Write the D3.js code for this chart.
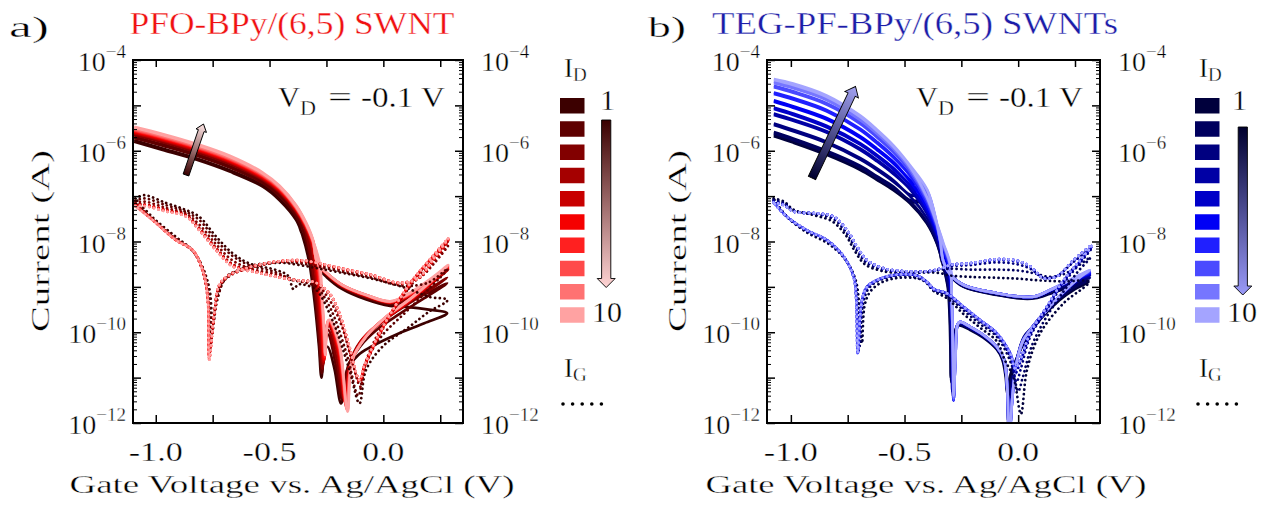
<!DOCTYPE html>
<html><head><meta charset="utf-8">
<script src="https://cdn.jsdelivr.net/npm/d3@7"></script>
<style>
body{margin:0;background:#fff}
svg{display:block}
text{font-family:"Liberation Serif","Times New Roman",serif;font-weight:normal;fill:#000;stroke:#fff;stroke-width:0.35px}
</style>
</head><body>
<svg id="c" width="1265" height="516"></svg>
<script>
// ---------------- data ----------------
const cycleLabels = ["1","2","3","4","5","6","7","8","9","10"];
const redShades  = ["#3c0000","#5e0000","#820000","#a50000","#c80000","#f50000","#ff2020","#ff4a4a","#ff7272","#ffa2a2"];
const blueShades = ["#00003c","#00005e","#000080","#0000a5","#0000c8","#0000f5","#2020ff","#4a4aff","#7676ff","#a4a4ff"];
const xTickValues = [-1.0,-0.75,-0.5,-0.25,0.0,0.25];
const xTickLabels = [[-1.0,"-1.0"],[-0.5,"-0.5"],[0.0,"0.0"]];
const yLabelExps = [-4,-6,-8,-10,-12];
const titleA = "PFO-BPy/(6,5) SWNT";
const titleB = "TEG-PF-BPy/(6,5) SWNTs";
const xLabel = "Gate Voltage vs. Ag/AgCl (V)";
const yLabel = "Current (A)";

// curves: flat lists of [gate voltage (V), log10 current (A)] pairs, in sweep order
// panel a) drain currents I_D, cycles 1..10
const aID1=[-1.095,-5.80,-0.97,-5.98,-0.82,-6.20,-0.675,-6.46,-0.53,-6.79,-0.456,-7.09,-0.383,-7.53,-0.354,-7.89,-0.325,-8.48,-0.303,-9.29,-0.283,-10.3,-0.272,-11.0,-0.258,-10.4,-0.245,-10.32,-0.215,-10.8,-0.186,-11.57,-0.16,-10.85,-0.11,-10.5,-0.054,-10.32,0.07,-10.02,0.18,-9.8,0.28,-9.58,0.2,-9.5,0.1,-9.44,0.03,-9.42,-0.075,-9.28,-0.18,-9.05,-0.25,-8.78,-0.3,-8.5,-0.33,-8.1,-0.36,-7.8,-0.383,-7.5,-0.456,-7.06,-0.53,-6.76,-0.675,-6.43,-0.82,-6.17,-0.97,-5.95,-1.095,-5.77];
const aID2=[-1.095,-5.72,-0.97,-5.89,-0.82,-6.11,-0.675,-6.37,-0.53,-6.71,-0.456,-7.00,-0.383,-7.44,-0.35,-7.8,-0.32,-8.45,-0.3,-9.2,-0.282,-10.2,-0.27,-10.9,-0.256,-10.15,-0.243,-10.05,-0.21,-10.7,-0.18,-11.5,-0.155,-10.75,-0.1,-10.3,-0.03,-9.95,0.07,-9.6,0.18,-9.25,0.28,-8.92,0.2,-9.12,0.1,-9.33,0.03,-9.38,-0.075,-9.24,-0.18,-9.01,-0.25,-8.74,-0.295,-8.48,-0.325,-8.05,-0.355,-7.72,-0.383,-7.41,-0.456,-6.97,-0.53,-6.68,-0.675,-6.34,-0.82,-6.08,-0.97,-5.86,-1.095,-5.69];
const aID3=[-1.095,-5.65,-0.97,-5.81,-0.82,-6.03,-0.675,-6.29,-0.53,-6.64,-0.456,-6.92,-0.383,-7.36,-0.345,-7.72,-0.315,-8.45,-0.296,-9.15,-0.279,-10.1,-0.268,-10.8,-0.254,-10.05,-0.242,-9.95,-0.205,-10.6,-0.175,-11.45,-0.15,-10.7,-0.1,-10.2,-0.03,-9.85,0.07,-9.5,0.18,-9.15,0.28,-8.80,0.2,-9.05,0.1,-9.28,0.03,-9.36,-0.075,-9.22,-0.18,-9.0,-0.25,-8.72,-0.292,-8.48,-0.32,-8.02,-0.35,-7.66,-0.383,-7.33,-0.456,-6.89,-0.53,-6.61,-0.675,-6.26,-0.82,-6.0,-0.97,-5.78,-1.095,-5.62];
const aID4=[-1.095,-5.62,-0.97,-5.78,-0.82,-6.00,-0.675,-6.26,-0.53,-6.62,-0.456,-6.90,-0.383,-7.33,-0.34,-7.72,-0.318,-8.05,-0.305,-8.45,-0.29,-9.1,-0.274,-10.1,-0.264,-10.7,-0.251,-9.95,-0.24,-9.85,-0.2,-10.5,-0.17,-11.5,-0.147,-10.7,-0.09,-10.15,0.0,-9.75,0.12,-9.3,0.285,-8.62,0.2,-8.95,0.1,-9.24,0.03,-9.35,-0.075,-9.21,-0.18,-8.99,-0.25,-8.71,-0.29,-8.48,-0.31,-8.02,-0.34,-7.69,-0.383,-7.3,-0.456,-6.87,-0.53,-6.59,-0.675,-6.23,-0.82,-5.97,-0.97,-5.75,-1.095,-5.59];
const aID5=[-1.095,-5.60,-0.97,-5.76,-0.82,-5.98,-0.675,-6.24,-0.53,-6.60,-0.456,-6.88,-0.383,-7.31,-0.34,-7.69,-0.315,-8.02,-0.3,-8.45,-0.285,-9.1,-0.27,-10.1,-0.262,-10.65,-0.249,-9.9,-0.239,-9.8,-0.198,-10.45,-0.167,-11.55,-0.145,-10.7,-0.085,-10.12,0.005,-9.72,0.124,-9.28,0.285,-8.6,0.2,-8.93,0.1,-9.23,0.03,-9.34,-0.075,-9.2,-0.18,-8.98,-0.25,-8.7,-0.29,-8.47,-0.31,-8.0,-0.34,-7.66,-0.383,-7.28,-0.456,-6.85,-0.53,-6.57,-0.675,-6.21,-0.82,-5.95,-0.97,-5.73,-1.095,-5.57];
const aID6=[-1.095,-5.58,-0.97,-5.74,-0.82,-5.96,-0.675,-6.22,-0.53,-6.58,-0.456,-6.86,-0.383,-7.29,-0.34,-7.67,-0.313,-8.0,-0.295,-8.45,-0.28,-9.1,-0.266,-10.2,-0.26,-10.6,-0.247,-9.85,-0.238,-9.78,-0.196,-10.4,-0.164,-11.6,-0.143,-10.7,-0.082,-10.11,0.008,-9.7,0.126,-9.26,0.285,-8.58,0.2,-8.91,0.1,-9.22,0.03,-9.34,-0.075,-9.19,-0.18,-8.97,-0.25,-8.7,-0.29,-8.47,-0.31,-7.99,-0.34,-7.64,-0.383,-7.26,-0.456,-6.83,-0.53,-6.55,-0.675,-6.19,-0.82,-5.93,-0.97,-5.71,-1.095,-5.55];
const aID7=[-1.095,-5.56,-0.97,-5.72,-0.82,-5.94,-0.675,-6.20,-0.53,-6.56,-0.456,-6.84,-0.383,-7.27,-0.34,-7.65,-0.312,-7.99,-0.29,-8.46,-0.276,-9.15,-0.262,-10.2,-0.258,-10.55,-0.245,-9.8,-0.237,-9.76,-0.195,-10.35,-0.162,-11.65,-0.141,-10.68,-0.08,-10.1,0.01,-9.68,0.127,-9.24,0.285,-8.56,0.2,-8.89,0.1,-9.21,0.03,-9.33,-0.075,-9.19,-0.18,-8.97,-0.25,-8.7,-0.29,-8.47,-0.31,-7.98,-0.34,-7.62,-0.383,-7.24,-0.456,-6.81,-0.53,-6.53,-0.675,-6.17,-0.82,-5.91,-0.97,-5.69,-1.095,-5.53];
const aID8=[-1.095,-5.54,-0.97,-5.70,-0.82,-5.92,-0.675,-6.18,-0.53,-6.54,-0.456,-6.82,-0.383,-7.26,-0.34,-7.63,-0.311,-7.98,-0.287,-8.47,-0.272,-9.2,-0.26,-10.2,-0.257,-10.5,-0.244,-9.77,-0.236,-9.75,-0.194,-10.32,-0.16,-11.7,-0.14,-10.66,-0.078,-10.1,0.011,-9.67,0.128,-9.23,0.285,-8.55,0.2,-8.88,0.1,-9.2,0.03,-9.33,-0.075,-9.18,-0.18,-8.96,-0.25,-8.69,-0.29,-8.47,-0.31,-7.98,-0.34,-7.61,-0.383,-7.23,-0.456,-6.8,-0.53,-6.52,-0.675,-6.16,-0.82,-5.9,-0.97,-5.68,-1.095,-5.52];
const aID9=[-1.095,-5.52,-0.97,-5.68,-0.82,-5.90,-0.675,-6.16,-0.53,-6.52,-0.456,-6.81,-0.383,-7.25,-0.34,-7.62,-0.31,-7.97,-0.284,-8.47,-0.27,-9.25,-0.258,-10.2,-0.256,-10.5,-0.243,-9.75,-0.235,-9.74,-0.193,-10.3,-0.158,-11.72,-0.138,-10.63,-0.077,-10.1,0.012,-9.66,0.129,-9.22,0.285,-8.53,0.2,-8.87,0.1,-9.19,0.03,-9.32,-0.075,-9.18,-0.18,-8.96,-0.25,-8.69,-0.29,-8.47,-0.31,-7.97,-0.34,-7.6,-0.383,-7.22,-0.456,-6.79,-0.53,-6.51,-0.675,-6.15,-0.82,-5.89,-0.97,-5.67,-1.095,-5.51];
const aID10=[-1.095,-5.49,-0.97,-5.65,-0.82,-5.87,-0.675,-6.13,-0.53,-6.50,-0.456,-6.79,-0.383,-7.23,-0.34,-7.60,-0.31,-7.97,-0.28,-8.48,-0.268,-9.3,-0.257,-10.2,-0.255,-10.5,-0.242,-9.74,-0.234,-9.73,-0.192,-10.3,-0.157,-11.75,-0.136,-10.6,-0.076,-10.1,0.012,-9.66,0.129,-9.22,0.285,-8.52,0.2,-8.85,0.1,-9.18,0.03,-9.32,-0.075,-9.18,-0.18,-8.96,-0.25,-8.69,-0.29,-8.47,-0.31,-7.95,-0.34,-7.58,-0.383,-7.2,-0.456,-6.77,-0.53,-6.48,-0.675,-6.11,-0.82,-5.85,-0.97,-5.63,-1.095,-5.47];
// panel a) gate leakage currents I_G, cycles 1..10
const aIG1=[-1.09,-7.05,-1.05,-6.98,-0.955,-7.15,-0.88,-7.28,-0.81,-7.45,-0.735,-7.89,-0.662,-8.26,-0.59,-8.48,-0.47,-8.63,-0.42,-8.75,-0.395,-9.05,-0.375,-8.95,-0.35,-8.95,-0.295,-9.07,-0.224,-9.73,-0.149,-10.83,-0.105,-11.57,-0.076,-10.83,-0.004,-10.32,0.114,-9.88,0.2,-9.55,0.282,-9.29,0.2,-9.22,0.114,-9.05,0.05,-8.95,-0.05,-8.82,-0.15,-8.72,-0.28,-8.6,-0.368,-8.52,-0.45,-8.47,-0.55,-8.52,-0.63,-8.62,-0.69,-8.8,-0.73,-9.2,-0.75,-9.88,-0.762,-9.1,-0.79,-8.62,-0.838,-8.2,-0.911,-7.9,-1.013,-7.47,-1.09,-7.05];
const aIG2=[-1.09,-7.1,-1.05,-7.05,-0.955,-7.2,-0.88,-7.32,-0.81,-7.52,-0.735,-7.97,-0.662,-8.32,-0.59,-8.52,-0.47,-8.68,-0.4,-8.85,-0.35,-8.9,-0.295,-9.0,-0.23,-9.5,-0.16,-10.5,-0.11,-11.4,-0.08,-10.7,-0.01,-10.1,0.1,-9.55,0.2,-9.05,0.283,-8.6,0.2,-8.9,0.114,-8.98,0.05,-8.95,-0.05,-8.8,-0.15,-8.7,-0.28,-8.56,-0.368,-8.48,-0.45,-8.45,-0.55,-8.5,-0.62,-8.6,-0.69,-8.78,-0.73,-9.3,-0.755,-10.1,-0.765,-9.2,-0.79,-8.62,-0.838,-8.2,-0.911,-7.93,-1.013,-7.5,-1.09,-7.1];
const aIG3=[-1.09,-7.15,-1.05,-7.12,-0.955,-7.26,-0.87,-7.38,-0.81,-7.62,-0.735,-8.06,-0.662,-8.42,-0.58,-8.6,-0.47,-8.72,-0.38,-8.85,-0.3,-8.92,-0.235,-9.3,-0.18,-9.9,-0.14,-10.6,-0.1,-11.2,-0.08,-10.7,-0.02,-10.0,0.06,-9.4,0.14,-8.85,0.22,-8.45,0.284,-8.1,0.22,-8.5,0.16,-8.8,0.1,-8.92,0.05,-8.92,-0.047,-8.76,-0.149,-8.66,-0.28,-8.52,-0.368,-8.45,-0.45,-8.44,-0.52,-8.5,-0.6,-8.6,-0.675,-8.76,-0.72,-9.0,-0.745,-9.7,-0.762,-10.4,-0.77,-9.3,-0.794,-8.65,-0.838,-8.2,-0.911,-7.96,-1.013,-7.52,-1.09,-7.15];
const aIG4=[-1.09,-7.18,-1.05,-7.18,-0.955,-7.3,-0.867,-7.42,-0.809,-7.7,-0.735,-8.14,-0.662,-8.5,-0.56,-8.66,-0.47,-8.77,-0.37,-8.86,-0.3,-8.9,-0.237,-9.16,-0.193,-9.62,-0.149,-10.38,-0.103,-11.1,-0.083,-10.78,-0.03,-10.2,0.043,-9.52,0.13,-8.86,0.216,-8.36,0.285,-8.0,0.22,-8.42,0.16,-8.8,0.1,-8.92,0.05,-8.91,-0.047,-8.75,-0.149,-8.64,-0.281,-8.5,-0.368,-8.43,-0.45,-8.44,-0.516,-8.49,-0.604,-8.6,-0.677,-8.75,-0.72,-8.97,-0.743,-9.6,-0.764,-10.45,-0.772,-9.24,-0.794,-8.64,-0.838,-8.2,-0.911,-7.96,-1.013,-7.52,-1.09,-7.18];
const aIG5=[-1.09,-7.19,-1.05,-7.19,-0.955,-7.31,-0.867,-7.43,-0.809,-7.72,-0.735,-8.16,-0.662,-8.52,-0.56,-8.67,-0.47,-8.77,-0.37,-8.86,-0.3,-8.9,-0.237,-9.15,-0.193,-9.6,-0.149,-10.36,-0.104,-11.08,-0.084,-10.77,-0.031,-10.19,0.042,-9.52,0.13,-8.86,0.216,-8.35,0.285,-7.98,0.22,-8.41,0.16,-8.79,0.1,-8.91,0.05,-8.91,-0.047,-8.75,-0.149,-8.64,-0.281,-8.49,-0.368,-8.42,-0.45,-8.44,-0.516,-8.49,-0.604,-8.6,-0.677,-8.75,-0.72,-8.96,-0.743,-9.59,-0.765,-10.5,-0.772,-9.23,-0.794,-8.64,-0.838,-8.2,-0.911,-7.97,-1.013,-7.52,-1.09,-7.19];
const aIG6=[-1.09,-7.2,-1.05,-7.2,-0.955,-7.32,-0.867,-7.44,-0.809,-7.73,-0.735,-8.17,-0.662,-8.53,-0.56,-8.67,-0.47,-8.78,-0.37,-8.86,-0.3,-8.9,-0.237,-9.15,-0.193,-9.59,-0.149,-10.34,-0.104,-11.07,-0.084,-10.76,-0.031,-10.18,0.041,-9.51,0.129,-8.85,0.216,-8.34,0.285,-7.96,0.22,-8.4,0.16,-8.79,0.1,-8.9,0.05,-8.9,-0.047,-8.74,-0.149,-8.63,-0.281,-8.49,-0.368,-8.42,-0.45,-8.43,-0.516,-8.48,-0.604,-8.59,-0.677,-8.74,-0.72,-8.96,-0.743,-9.59,-0.765,-10.55,-0.772,-9.23,-0.794,-8.63,-0.838,-8.19,-0.911,-7.97,-1.013,-7.53,-1.09,-7.2];
const aIG7=[-1.09,-7.21,-1.05,-7.21,-0.955,-7.33,-0.867,-7.44,-0.809,-7.74,-0.735,-8.18,-0.662,-8.54,-0.56,-8.68,-0.47,-8.78,-0.37,-8.86,-0.3,-8.9,-0.237,-9.14,-0.193,-9.58,-0.149,-10.33,-0.105,-11.06,-0.085,-10.76,-0.032,-10.17,0.041,-9.51,0.129,-8.85,0.216,-8.34,0.285,-7.95,0.22,-8.39,0.16,-8.78,0.1,-8.9,0.05,-8.9,-0.047,-8.74,-0.149,-8.63,-0.281,-8.48,-0.368,-8.41,-0.45,-8.43,-0.516,-8.48,-0.604,-8.59,-0.677,-8.74,-0.72,-8.95,-0.743,-9.58,-0.765,-10.58,-0.772,-9.22,-0.794,-8.63,-0.838,-8.19,-0.911,-7.97,-1.013,-7.53,-1.09,-7.21];
const aIG8=[-1.09,-7.21,-1.05,-7.21,-0.955,-7.33,-0.867,-7.45,-0.809,-7.75,-0.735,-8.19,-0.662,-8.55,-0.56,-8.68,-0.47,-8.78,-0.37,-8.86,-0.3,-8.9,-0.237,-9.14,-0.193,-9.58,-0.149,-10.32,-0.105,-11.05,-0.085,-10.75,-0.032,-10.17,0.041,-9.51,0.129,-8.85,0.216,-8.33,0.285,-7.94,0.22,-8.38,0.16,-8.78,0.1,-8.9,0.05,-8.9,-0.047,-8.74,-0.149,-8.63,-0.281,-8.48,-0.368,-8.41,-0.45,-8.43,-0.516,-8.48,-0.604,-8.59,-0.677,-8.74,-0.72,-8.95,-0.743,-9.58,-0.765,-10.6,-0.772,-9.22,-0.794,-8.63,-0.838,-8.19,-0.911,-7.97,-1.013,-7.53,-1.09,-7.21];
const aIG9=[-1.09,-7.22,-1.05,-7.22,-0.955,-7.34,-0.867,-7.45,-0.809,-7.75,-0.735,-8.19,-0.662,-8.55,-0.56,-8.68,-0.47,-8.78,-0.37,-8.86,-0.3,-8.9,-0.237,-9.14,-0.193,-9.58,-0.149,-10.32,-0.105,-11.05,-0.085,-10.75,-0.032,-10.17,0.041,-9.51,0.129,-8.85,0.216,-8.33,0.285,-7.93,0.22,-8.38,0.16,-8.78,0.1,-8.9,0.05,-8.9,-0.047,-8.74,-0.149,-8.63,-0.281,-8.48,-0.368,-8.41,-0.45,-8.43,-0.516,-8.48,-0.604,-8.59,-0.677,-8.74,-0.72,-8.95,-0.743,-9.58,-0.765,-10.6,-0.772,-9.22,-0.794,-8.63,-0.838,-8.19,-0.911,-7.97,-1.013,-7.53,-1.09,-7.22];
const aIG10=[-1.09,-7.22,-1.05,-7.22,-0.955,-7.34,-0.867,-7.45,-0.809,-7.75,-0.735,-8.19,-0.662,-8.55,-0.56,-8.68,-0.47,-8.78,-0.37,-8.86,-0.3,-8.9,-0.237,-9.14,-0.193,-9.58,-0.149,-10.32,-0.105,-11.05,-0.085,-10.75,-0.032,-10.17,0.041,-9.51,0.129,-8.85,0.216,-8.33,0.285,-7.93,0.22,-8.38,0.16,-8.78,0.1,-8.9,0.05,-8.9,-0.047,-8.74,-0.149,-8.63,-0.281,-8.48,-0.368,-8.41,-0.45,-8.43,-0.516,-8.48,-0.604,-8.59,-0.677,-8.74,-0.72,-8.95,-0.743,-9.58,-0.765,-10.62,-0.772,-9.22,-0.794,-8.63,-0.838,-8.19,-0.911,-7.97,-1.013,-7.53,-1.09,-7.22];

// panel b) drain currents I_D, cycles 1..10
const bID1=[-1.075,-5.68,-0.99,-5.82,-0.843,-6.09,-0.696,-6.42,-0.622,-6.64,-0.549,-6.87,-0.476,-7.16,-0.402,-7.60,-0.358,-8.04,-0.329,-8.55,-0.31,-9.0,-0.302,-9.6,-0.298,-10.4,-0.296,-11.0,-0.288,-10.3,-0.272,-9.9,-0.26,-9.85,-0.211,-9.95,-0.153,-10.12,-0.094,-10.38,-0.07,-10.6,-0.055,-10.98,-0.048,-11.35,-0.035,-10.95,0.0,-10.5,0.04,-10.1,0.1,-9.7,0.18,-9.3,0.25,-9.05,0.31,-8.89,0.229,-9.0,0.141,-9.15,0.075,-9.25,0.022,-9.26,-0.094,-9.18,-0.24,-9.0,-0.3,-8.75,-0.335,-8.45,-0.35,-8.05,-0.372,-7.62,-0.41,-7.15,-0.476,-7.13,-0.549,-6.84,-0.622,-6.61,-0.696,-6.39,-0.843,-6.06,-0.99,-5.79,-1.075,-5.65];
const bID2=[-1.075,-5.62,-0.99,-5.76,-0.843,-6.03,-0.696,-6.36,-0.622,-6.59,-0.549,-6.82,-0.476,-7.12,-0.402,-7.57,-0.358,-8.02,-0.329,-8.53,-0.308,-9.0,-0.3,-9.6,-0.296,-10.5,-0.294,-11.1,-0.286,-10.3,-0.27,-9.88,-0.258,-9.83,-0.211,-9.93,-0.153,-10.1,-0.094,-10.36,-0.066,-10.6,-0.05,-11.1,-0.044,-11.6,-0.032,-11.1,-0.004,-10.55,0.035,-10.1,0.1,-9.65,0.18,-9.26,0.25,-9.0,0.31,-8.85,0.229,-8.97,0.141,-9.13,0.075,-9.24,0.022,-9.25,-0.094,-9.17,-0.24,-8.99,-0.3,-8.74,-0.334,-8.44,-0.35,-8.04,-0.372,-7.6,-0.41,-7.12,-0.476,-7.09,-0.549,-6.79,-0.622,-6.56,-0.696,-6.33,-0.843,-6.0,-0.99,-5.73,-1.075,-5.59];
const bID3=[-1.075,-5.43,-0.99,-5.57,-0.843,-5.83,-0.696,-6.19,-0.622,-6.42,-0.549,-6.68,-0.476,-7.00,-0.402,-7.48,-0.358,-7.95,-0.329,-8.45,-0.306,-8.95,-0.297,-9.55,-0.292,-10.6,-0.29,-11.3,-0.282,-10.4,-0.268,-9.85,-0.257,-9.8,-0.211,-9.91,-0.153,-10.08,-0.094,-10.34,-0.064,-10.6,-0.048,-11.2,-0.042,-12.0,-0.028,-11.2,-0.006,-10.6,0.025,-10.1,0.06,-9.9,0.126,-9.5,0.2,-9.12,0.273,-8.85,0.315,-8.8,0.229,-8.92,0.141,-9.1,0.075,-9.22,0.022,-9.23,-0.094,-9.15,-0.24,-8.97,-0.3,-8.73,-0.332,-8.43,-0.348,-8.0,-0.37,-7.56,-0.41,-7.05,-0.476,-6.97,-0.549,-6.65,-0.622,-6.39,-0.696,-6.16,-0.843,-5.8,-0.99,-5.54,-1.075,-5.4];
const bID4=[-1.075,-5.21,-0.99,-5.34,-0.843,-5.60,-0.696,-5.98,-0.622,-6.23,-0.549,-6.51,-0.476,-6.85,-0.402,-7.38,-0.358,-7.87,-0.329,-8.36,-0.304,-8.8,-0.295,-9.45,-0.289,-10.6,-0.287,-11.4,-0.279,-10.5,-0.267,-9.83,-0.256,-9.79,-0.211,-9.9,-0.153,-10.07,-0.094,-10.33,-0.063,-10.6,-0.048,-11.3,-0.041,-12.4,-0.026,-11.3,-0.007,-10.65,0.02,-10.18,0.053,-9.96,0.126,-9.52,0.2,-9.12,0.273,-8.82,0.315,-8.75,0.229,-8.88,0.141,-9.08,0.075,-9.21,0.022,-9.22,-0.094,-9.14,-0.24,-8.96,-0.3,-8.72,-0.331,-8.42,-0.346,-8.0,-0.368,-7.55,-0.405,-7.0,-0.476,-6.82,-0.549,-6.48,-0.622,-6.2,-0.696,-5.95,-0.843,-5.57,-0.99,-5.31,-1.075,-5.18];
const bID5=[-1.075,-5.08,-0.99,-5.21,-0.843,-5.48,-0.696,-5.86,-0.622,-6.12,-0.549,-6.41,-0.476,-6.77,-0.402,-7.32,-0.358,-7.83,-0.329,-8.31,-0.303,-8.7,-0.294,-9.4,-0.288,-10.6,-0.285,-11.5,-0.277,-10.55,-0.266,-9.82,-0.255,-9.78,-0.211,-9.89,-0.153,-10.07,-0.094,-10.33,-0.062,-10.6,-0.047,-11.3,-0.04,-12.4,-0.025,-11.35,-0.008,-10.68,0.02,-10.2,0.053,-9.96,0.126,-9.52,0.2,-9.12,0.273,-8.8,0.315,-8.72,0.229,-8.87,0.141,-9.08,0.075,-9.21,0.022,-9.22,-0.094,-9.14,-0.24,-8.96,-0.3,-8.72,-0.33,-8.42,-0.345,-8.0,-0.366,-7.55,-0.402,-6.98,-0.476,-6.74,-0.549,-6.38,-0.622,-6.09,-0.696,-5.83,-0.843,-5.45,-0.99,-5.18,-1.075,-5.05];
const bID6=[-1.075,-4.92,-0.99,-5.05,-0.843,-5.31,-0.696,-5.71,-0.622,-5.98,-0.549,-6.28,-0.476,-6.67,-0.402,-7.24,-0.358,-7.77,-0.329,-8.24,-0.302,-8.62,-0.293,-9.35,-0.287,-10.55,-0.284,-11.5,-0.276,-10.55,-0.266,-9.82,-0.255,-9.77,-0.211,-9.88,-0.153,-10.06,-0.094,-10.32,-0.062,-10.6,-0.047,-11.3,-0.04,-12.4,-0.025,-11.4,-0.008,-10.7,0.02,-10.2,0.053,-9.95,0.126,-9.51,0.2,-9.11,0.273,-8.79,0.315,-8.7,0.229,-8.86,0.141,-9.07,0.075,-9.21,0.022,-9.22,-0.094,-9.14,-0.24,-8.96,-0.3,-8.72,-0.33,-8.42,-0.344,-8.0,-0.364,-7.55,-0.4,-6.95,-0.476,-6.64,-0.549,-6.25,-0.622,-5.95,-0.696,-5.68,-0.843,-5.28,-0.99,-5.02,-1.075,-4.89];
const bID7=[-1.075,-4.75,-0.99,-4.87,-0.843,-5.13,-0.696,-5.54,-0.622,-5.83,-0.549,-6.15,-0.476,-6.55,-0.402,-7.16,-0.358,-7.71,-0.329,-8.17,-0.301,-8.56,-0.293,-9.32,-0.287,-10.5,-0.284,-11.5,-0.276,-10.55,-0.266,-9.82,-0.255,-9.77,-0.211,-9.88,-0.153,-10.06,-0.094,-10.32,-0.062,-10.6,-0.047,-11.3,-0.04,-12.4,-0.025,-11.4,-0.008,-10.7,0.02,-10.2,0.053,-9.95,0.126,-9.51,0.2,-9.11,0.273,-8.79,0.315,-8.68,0.229,-8.86,0.141,-9.07,0.075,-9.21,0.022,-9.22,-0.094,-9.14,-0.24,-8.96,-0.3,-8.72,-0.33,-8.42,-0.343,-8.0,-0.363,-7.55,-0.4,-6.92,-0.476,-6.52,-0.549,-6.12,-0.622,-5.8,-0.696,-5.51,-0.843,-5.1,-0.99,-4.84,-1.075,-4.72];
const bID8=[-1.075,-4.60,-0.99,-4.72,-0.843,-4.98,-0.696,-5.40,-0.622,-5.70,-0.549,-6.03,-0.476,-6.46,-0.402,-7.09,-0.358,-7.66,-0.329,-8.11,-0.3,-8.52,-0.292,-9.3,-0.287,-10.5,-0.284,-11.5,-0.276,-10.55,-0.266,-9.82,-0.255,-9.77,-0.211,-9.88,-0.153,-10.06,-0.094,-10.32,-0.062,-10.6,-0.047,-11.3,-0.04,-12.4,-0.025,-11.4,-0.008,-10.7,0.02,-10.2,0.053,-9.95,0.126,-9.51,0.2,-9.11,0.273,-8.78,0.315,-8.66,0.229,-8.85,0.141,-9.07,0.075,-9.21,0.022,-9.22,-0.094,-9.14,-0.24,-8.96,-0.3,-8.72,-0.33,-8.42,-0.343,-8.0,-0.362,-7.55,-0.4,-6.9,-0.476,-6.43,-0.549,-6.0,-0.622,-5.67,-0.696,-5.37,-0.843,-4.95,-0.99,-4.69,-1.075,-4.57];
const bID9=[-1.075,-4.51,-0.99,-4.62,-0.843,-4.88,-0.696,-5.32,-0.622,-5.62,-0.549,-5.96,-0.476,-6.40,-0.402,-7.04,-0.358,-7.62,-0.329,-8.07,-0.3,-8.5,-0.292,-9.3,-0.287,-10.5,-0.284,-11.45,-0.276,-10.55,-0.266,-9.82,-0.255,-9.77,-0.211,-9.88,-0.153,-10.06,-0.094,-10.32,-0.062,-10.6,-0.047,-11.3,-0.04,-12.4,-0.025,-11.4,-0.008,-10.7,0.02,-10.2,0.053,-9.95,0.126,-9.51,0.2,-9.11,0.273,-8.78,0.315,-8.64,0.229,-8.85,0.141,-9.07,0.075,-9.21,0.022,-9.22,-0.094,-9.14,-0.24,-8.96,-0.3,-8.72,-0.33,-8.42,-0.342,-8.0,-0.361,-7.55,-0.4,-6.88,-0.476,-6.37,-0.549,-5.93,-0.622,-5.59,-0.696,-5.29,-0.843,-4.85,-0.99,-4.59,-1.075,-4.48];
const bID10=[-1.075,-4.44,-0.99,-4.55,-0.843,-4.81,-0.696,-5.25,-0.622,-5.56,-0.549,-5.91,-0.476,-6.35,-0.402,-7.01,-0.358,-7.60,-0.329,-8.04,-0.3,-8.48,-0.292,-9.3,-0.287,-10.5,-0.284,-11.4,-0.276,-10.6,-0.266,-9.82,-0.255,-9.77,-0.211,-9.88,-0.153,-10.06,-0.094,-10.32,-0.062,-10.6,-0.047,-11.3,-0.04,-12.4,-0.025,-11.4,-0.008,-10.7,0.02,-10.2,0.053,-9.95,0.126,-9.51,0.2,-9.11,0.273,-8.78,0.315,-8.63,0.229,-8.85,0.141,-9.07,0.075,-9.21,0.022,-9.22,-0.094,-9.14,-0.24,-8.96,-0.3,-8.72,-0.33,-8.42,-0.342,-8.0,-0.36,-7.55,-0.4,-6.86,-0.476,-6.32,-0.549,-5.88,-0.622,-5.53,-0.696,-5.22,-0.843,-4.78,-0.99,-4.52,-1.075,-4.42];
// panel b) gate leakage currents I_G, cycles 1..10
const bIG1=[-1.076,-7.05,-1.03,-7.12,-0.988,-7.3,-0.9,-7.42,-0.82,-7.55,-0.76,-7.85,-0.72,-8.2,-0.675,-8.5,-0.6,-8.65,-0.5,-8.7,-0.4,-8.68,-0.34,-8.7,-0.3,-8.75,-0.211,-8.78,-0.094,-8.8,0.0,-8.82,0.1,-8.86,0.2,-8.88,0.31,-8.89,0.2,-9.36,0.097,-10.02,0.039,-10.83,0.012,-11.8,-0.02,-11.0,-0.06,-10.6,-0.094,-10.2,-0.167,-9.9,-0.24,-9.6,-0.314,-9.25,-0.37,-9.1,-0.42,-8.85,-0.52,-8.8,-0.6,-8.9,-0.65,-9.1,-0.675,-9.4,-0.687,-10.24,-0.7,-9.35,-0.715,-8.85,-0.76,-8.4,-0.835,-8.05,-0.93,-7.8,-1.018,-7.45,-1.076,-7.05];
const bIG2=[-1.076,-7.08,-1.03,-7.15,-0.988,-7.32,-0.89,-7.4,-0.815,-7.5,-0.757,-7.8,-0.715,-8.16,-0.67,-8.46,-0.595,-8.62,-0.49,-8.68,-0.4,-8.67,-0.34,-8.62,-0.3,-8.6,-0.211,-8.62,-0.094,-8.62,0.0,-8.64,0.07,-8.7,0.14,-8.78,0.2,-8.72,0.26,-8.55,0.318,-8.35,0.26,-8.68,0.2,-9.1,0.12,-9.7,0.06,-10.3,0.02,-11.0,0.0,-11.3,-0.03,-10.7,-0.094,-10.1,-0.167,-9.82,-0.24,-9.52,-0.314,-9.2,-0.37,-9.08,-0.41,-8.88,-0.48,-8.76,-0.56,-8.78,-0.62,-8.88,-0.66,-9.05,-0.683,-9.4,-0.697,-10.3,-0.706,-9.3,-0.72,-8.8,-0.765,-8.36,-0.838,-8.0,-0.93,-7.77,-1.018,-7.45,-1.076,-7.08];
const bIG3=[-1.076,-7.1,-1.03,-7.17,-0.988,-7.33,-0.887,-7.39,-0.813,-7.47,-0.755,-7.77,-0.712,-8.13,-0.667,-8.43,-0.593,-8.6,-0.49,-8.67,-0.4,-8.66,-0.342,-8.61,-0.3,-8.55,-0.211,-8.52,-0.094,-8.46,-0.006,-8.5,0.053,-8.6,0.112,-8.8,0.17,-8.76,0.244,-8.45,0.322,-8.15,0.273,-8.47,0.2,-8.92,0.126,-9.5,0.053,-10.1,0.012,-10.8,-0.008,-11.1,-0.035,-10.55,-0.094,-10.05,-0.167,-9.76,-0.24,-9.47,-0.314,-9.16,-0.37,-9.06,-0.4,-8.9,-0.445,-8.75,-0.548,-8.75,-0.621,-8.86,-0.663,-9.02,-0.685,-9.33,-0.703,-10.4,-0.71,-9.3,-0.722,-8.79,-0.767,-8.34,-0.84,-7.98,-0.93,-7.76,-1.018,-7.45,-1.076,-7.1];
const bIG4=[-1.076,-7.12,-1.03,-7.19,-0.988,-7.34,-0.885,-7.38,-0.812,-7.46,-0.753,-7.76,-0.71,-8.12,-0.666,-8.42,-0.592,-8.6,-0.489,-8.66,-0.4,-8.66,-0.342,-8.6,-0.3,-8.53,-0.211,-8.49,-0.094,-8.41,-0.006,-8.44,0.053,-8.56,0.112,-8.81,0.17,-8.77,0.244,-8.42,0.324,-8.1,0.273,-8.43,0.2,-8.87,0.126,-9.46,0.053,-10.04,0.01,-10.65,-0.012,-10.9,-0.035,-10.48,-0.094,-10.03,-0.167,-9.74,-0.24,-9.45,-0.314,-9.15,-0.37,-9.05,-0.4,-8.9,-0.445,-8.75,-0.548,-8.74,-0.621,-8.85,-0.665,-9.0,-0.687,-9.3,-0.705,-10.44,-0.712,-9.3,-0.724,-8.78,-0.768,-8.33,-0.841,-7.97,-0.93,-7.75,-1.018,-7.45,-1.076,-7.12];
const bIG5=[-1.076,-7.13,-1.03,-7.2,-0.988,-7.34,-0.885,-7.38,-0.812,-7.45,-0.753,-7.75,-0.709,-8.11,-0.665,-8.41,-0.592,-8.59,-0.489,-8.66,-0.4,-8.66,-0.342,-8.6,-0.3,-8.52,-0.211,-8.48,-0.094,-8.4,-0.006,-8.43,0.053,-8.55,0.112,-8.81,0.17,-8.77,0.244,-8.41,0.325,-8.09,0.273,-8.42,0.2,-8.86,0.126,-9.45,0.053,-10.03,0.009,-10.62,-0.013,-10.82,-0.035,-10.47,-0.094,-10.02,-0.167,-9.73,-0.24,-9.44,-0.314,-9.14,-0.37,-9.05,-0.4,-8.9,-0.445,-8.75,-0.548,-8.74,-0.621,-8.85,-0.665,-9.0,-0.687,-9.29,-0.706,-10.46,-0.712,-9.3,-0.724,-8.78,-0.768,-8.33,-0.841,-7.97,-0.93,-7.75,-1.018,-7.45,-1.076,-7.13];
const bIG6=[-1.076,-7.14,-1.03,-7.2,-0.988,-7.34,-0.885,-7.38,-0.812,-7.45,-0.753,-7.75,-0.709,-8.11,-0.665,-8.41,-0.592,-8.59,-0.489,-8.66,-0.4,-8.66,-0.342,-8.6,-0.3,-8.52,-0.211,-8.48,-0.094,-8.39,-0.006,-8.42,0.053,-8.55,0.112,-8.81,0.17,-8.77,0.244,-8.41,0.325,-8.08,0.273,-8.41,0.2,-8.85,0.126,-9.44,0.053,-10.02,0.009,-10.61,-0.013,-10.8,-0.035,-10.46,-0.094,-10.02,-0.167,-9.73,-0.24,-9.44,-0.314,-9.14,-0.37,-9.05,-0.4,-8.9,-0.445,-8.75,-0.548,-8.74,-0.621,-8.85,-0.665,-9.0,-0.687,-9.29,-0.706,-10.46,-0.712,-9.3,-0.724,-8.78,-0.768,-8.33,-0.841,-7.97,-0.93,-7.75,-1.018,-7.45,-1.076,-7.14];
const bIG7=[-1.076,-7.14,-1.03,-7.2,-0.988,-7.34,-0.885,-7.38,-0.812,-7.45,-0.753,-7.75,-0.709,-8.11,-0.665,-8.41,-0.592,-8.59,-0.489,-8.66,-0.4,-8.66,-0.342,-8.6,-0.3,-8.52,-0.211,-8.48,-0.094,-8.39,-0.006,-8.42,0.053,-8.55,0.112,-8.81,0.17,-8.77,0.244,-8.41,0.325,-8.08,0.273,-8.41,0.2,-8.85,0.126,-9.44,0.053,-10.02,0.009,-10.61,-0.013,-10.79,-0.035,-10.46,-0.094,-10.02,-0.167,-9.73,-0.24,-9.44,-0.314,-9.14,-0.37,-9.05,-0.4,-8.9,-0.445,-8.75,-0.548,-8.74,-0.621,-8.85,-0.665,-9.0,-0.687,-9.29,-0.706,-10.46,-0.712,-9.3,-0.724,-8.78,-0.768,-8.33,-0.841,-7.97,-0.93,-7.75,-1.018,-7.45,-1.076,-7.14];
const bIG8=[-1.076,-7.14,-1.03,-7.2,-0.988,-7.34,-0.885,-7.38,-0.812,-7.45,-0.753,-7.75,-0.709,-8.11,-0.665,-8.41,-0.592,-8.59,-0.489,-8.66,-0.4,-8.66,-0.342,-8.6,-0.3,-8.52,-0.211,-8.48,-0.094,-8.39,-0.006,-8.42,0.053,-8.55,0.112,-8.81,0.17,-8.77,0.244,-8.41,0.325,-8.08,0.273,-8.41,0.2,-8.85,0.126,-9.44,0.053,-10.02,0.009,-10.61,-0.013,-10.78,-0.035,-10.46,-0.094,-10.02,-0.167,-9.73,-0.24,-9.44,-0.314,-9.14,-0.37,-9.05,-0.4,-8.9,-0.445,-8.75,-0.548,-8.74,-0.621,-8.85,-0.665,-9.0,-0.687,-9.29,-0.706,-10.46,-0.712,-9.3,-0.724,-8.78,-0.768,-8.33,-0.841,-7.97,-0.93,-7.75,-1.018,-7.45,-1.076,-7.14];
const bIG9=[-1.076,-7.14,-1.03,-7.2,-0.988,-7.34,-0.885,-7.38,-0.812,-7.45,-0.753,-7.75,-0.709,-8.11,-0.665,-8.41,-0.592,-8.59,-0.489,-8.66,-0.4,-8.66,-0.342,-8.6,-0.3,-8.52,-0.211,-8.48,-0.094,-8.39,-0.006,-8.42,0.053,-8.55,0.112,-8.81,0.17,-8.77,0.244,-8.41,0.325,-8.08,0.273,-8.41,0.2,-8.85,0.126,-9.44,0.053,-10.02,0.009,-10.61,-0.013,-10.8,-0.035,-10.46,-0.094,-10.02,-0.167,-9.73,-0.24,-9.44,-0.314,-9.14,-0.37,-9.05,-0.4,-8.9,-0.445,-8.75,-0.548,-8.74,-0.621,-8.85,-0.665,-9.0,-0.687,-9.29,-0.706,-10.46,-0.712,-9.3,-0.724,-8.78,-0.768,-8.33,-0.841,-7.97,-0.93,-7.75,-1.018,-7.45,-1.076,-7.14];
const bIG10=[-1.076,-7.14,-1.03,-7.2,-0.988,-7.34,-0.885,-7.38,-0.812,-7.45,-0.753,-7.75,-0.709,-8.11,-0.665,-8.41,-0.592,-8.59,-0.489,-8.66,-0.4,-8.66,-0.342,-8.6,-0.3,-8.52,-0.211,-8.48,-0.094,-8.39,-0.006,-8.42,0.053,-8.55,0.112,-8.81,0.17,-8.77,0.244,-8.41,0.325,-8.08,0.273,-8.41,0.2,-8.85,0.126,-9.44,0.053,-10.02,0.009,-10.61,-0.013,-10.8,-0.035,-10.46,-0.094,-10.02,-0.167,-9.73,-0.24,-9.44,-0.314,-9.14,-0.37,-9.05,-0.4,-8.9,-0.445,-8.75,-0.548,-8.74,-0.621,-8.85,-0.665,-9.0,-0.687,-9.29,-0.706,-10.46,-0.712,-9.3,-0.724,-8.78,-0.768,-8.33,-0.841,-7.97,-0.93,-7.75,-1.018,-7.45,-1.076,-7.14];

const aID=[aID1,aID2,aID3,aID4,aID5,aID6,aID7,aID8,aID9,aID10];
const aIG=[aIG1,aIG2,aIG3,aIG4,aIG5,aIG6,aIG7,aIG8,aIG9,aIG10];
const bID=[bID1,bID2,bID3,bID4,bID5,bID6,bID7,bID8,bID9,bID10];
const bIG=[bIG1,bIG2,bIG3,bIG4,bIG5,bIG6,bIG7,bIG8,bIG9,bIG10];

// ---------------- drawing ----------------
const svg = d3.select('#c');
const defs = svg.append('defs');
const TOP = 60, BOT = 423;

function pairs(a){ const o=[]; for(let i=0;i<a.length;i+=2) o.push([a[i], Math.pow(10,a[i+1])]); return o; }
function grad(id,c0,c1){
  const g=defs.append('linearGradient').attr('id',id).attr('x1',0).attr('y1',0).attr('x2',1).attr('y2',0);
  g.append('stop').attr('offset',0).attr('stop-color',c0);
  g.append('stop').attr('offset',1).attr('stop-color',c1);
}
function txt(x,y,s,size,anchor,len,color){
  const t=svg.append('text').attr('x',x).attr('y',y).attr('font-size',size).attr('text-anchor',anchor||'start').text(s);
  if(len){ t.attr('textLength',len).attr('lengthAdjust','spacingAndGlyphs'); }
  if(color) t.style('fill',color);
  return t;
}
function arrow(x0,y0,x1,y1,sw,hw,hl,gid){
  const L=Math.hypot(x1-x0,y1-y0), ang=Math.atan2(y1-y0,x1-x0)*180/Math.PI;
  const p=[[0,-sw],[L-hl,-sw],[L-hl,-hw],[L,0],[L-hl,hw],[L-hl,sw],[0,sw]];
  svg.append('polygon').attr('points',p.map(q=>q.join(',')).join(' '))
    .attr('transform',`translate(${x0},${y0}) rotate(${ang})`)
    .attr('fill',`url(#${gid})`).attr('stroke','#000').attr('stroke-width',0.9);
}
function subText(x,y,main,sub,size,subSize,subDy){
  const t=svg.append('text').attr('x',x).attr('y',y).attr('font-size',size);
  t.append('tspan').text(main);
  t.append('tspan').attr('font-size',subSize).attr('dy',subDy).text(sub);
  return t;
}

function panel(o){
  const x=d3.scaleLinear().domain(o.xDomain).range([o.x0,o.x1]);
  const y=d3.scaleLog().domain([1e-12,1e-4]).range([BOT,TOP]);
  const clipId=o.id+'clip';
  defs.append('clipPath').attr('id',clipId).append('rect')
    .attr('x',o.x0).attr('y',TOP).attr('width',o.x1-o.x0).attr('height',BOT-TOP);
  const line=d3.line().x(d=>x(d[0])).y(d=>y(d[1])).curve(d3.curveCatmullRom.alpha(0.5));
  const cg=svg.append('g').attr('clip-path',`url(#${clipId})`);
  o.id_.forEach((a,i)=>cg.append('path').attr('d',line(pairs(a))).attr('fill','none')
    .attr('stroke',o.colors[i]).attr('stroke-width',2.7).attr('stroke-linejoin','round'));
  o.ig.forEach((a,i)=>cg.append('path').attr('d',line(pairs(a))).attr('fill','none')
    .attr('stroke',o.colors[i]).attr('stroke-width',2.7).attr('stroke-linecap','round')
    .attr('stroke-dasharray','0.1 4.6'));

  // axes with inward ticks
  const tickStyle=g=>{ g.select('.domain').remove(); g.selectAll('line').attr('stroke','#000').attr('stroke-width',1.5); };
  svg.append('g').attr('transform',`translate(0,${BOT})`)
    .call(d3.axisBottom(x).tickValues(xTickValues).tickSize(-8).tickFormat('')).call(tickStyle);
  svg.append('g').attr('transform',`translate(0,${TOP})`)
    .call(d3.axisTop(x).tickValues(xTickValues).tickSize(-7).tickFormat('')).call(tickStyle);
  const majors=d3.range(-12,-3).map(e=>Math.pow(10,e));
  const minors=[]; d3.range(-12,-4).forEach(e=>{ for(let m=2;m<10;m++) minors.push(m*Math.pow(10,e)); });
  [['L',o.x0],['R',o.x1]].forEach(([side,px])=>{
    const ax = side==='L'? d3.axisLeft(y): d3.axisRight(y);
    svg.append('g').attr('transform',`translate(${px},0)`).call(ax.tickValues(majors).tickSize(-8).tickFormat('')).call(tickStyle);
    const ax2 = side==='L'? d3.axisLeft(y): d3.axisRight(y);
    svg.append('g').attr('transform',`translate(${px},0)`).call(ax2.tickValues(minors).tickSize(-4).tickFormat('')).call(tickStyle)
      .selectAll('line').attr('stroke-width',1);
  });
  svg.append('rect').attr('x',o.x0).attr('y',TOP).attr('width',o.x1-o.x0).attr('height',BOT-TOP)
    .attr('fill','none').attr('stroke','#000').attr('stroke-width',2);

  // tick labels
  xTickLabels.forEach(([v,s])=>txt(x(v),461,s,28,'middle',s.length>3?54:42));
  yLabelExps.forEach(e=>{
    [['end',o.x0-7],['start',o.x1+18]].forEach(([anc,px])=>{
      const t=svg.append('text').attr('x',px).attr('y',y(Math.pow(10,e))+11).attr('font-size',28).attr('text-anchor',anc);
      t.append('tspan').text('10');
      t.append('tspan').attr('font-size',19).attr('dy',-13).text('\u2212'+(-e));
    });
  });
  // axis titles
  txt(o.xLabelX,493,xLabel,26,'middle',o.xLabelLen);
  svg.append('text').attr('transform',`translate(${o.yLabelX},241) rotate(-90)`).attr('font-size',26)
    .attr('text-anchor','middle').attr('textLength',182).attr('lengthAdjust','spacingAndGlyphs').text(yLabel);
  // V_D annotation
  txt(o.vdX,107,'V',30,'start',22);
  txt(o.vdX+22,115,'D',21,'start',16);
  txt(o.vdX+50,107,'=',30,'start',24);
  txt(o.vdX+83,107,'-0.1 V',30,'start',84);
  // arrow in plot
  arrow(o.pa[0],o.pa[1],o.pa[2],o.pa[3],o.pa[4],o.pa[5],o.pa[6],o.id+'ga');
  // legend
  o.colors.forEach((c,i)=>svg.append('rect').attr('x',o.legX).attr('y',98+i*23.25).attr('width',24.5).attr('height',15.5).attr('fill',c));
  subText(o.legX+4,77,'I','D',27,19,4);
  subText(o.legX+4,377,'I','G',27,19,4);
  txt(o.legX+(o.id==='a'?40:37),110,cycleLabels[0],30,'start');
  txt(o.legX+32,322,cycleLabels[9],30,'start',30);
  for(let k=0;k<5;k++) svg.append('circle').attr('cx',o.legX+3+k*9.6).attr('cy',404).attr('r',1.8).attr('fill','#000');
  arrow(o.la[0],o.la[1],o.la[2],o.la[3],4.6,9,9,o.id+'gl');
}

grad('aga','#3a0000','#ffe6e6');
grad('agl','#3a0000','#ffd4d4');
grad('bga','#00002e','#a2a2f2');
grad('bgl','#00002e','#9a9af8');

panel({id:'a',x0:133,x1:463,xDomain:[-1.1,0.35],id_:aID,ig:aIG,colors:redShades,
  xLabelX:292,xLabelLen:445,yLabelX:49,vdX:278,pa:[186,175,203.5,124,3,5.5,7],legX:560,la:[606.2,120,606.2,287.5]});
panel({id:'b',x0:767,x1:1100,xDomain:[-1.105,0.36],id_:bID,ig:bIG,colors:blueShades,
  xLabelX:926,xLabelLen:441,yLabelX:686,vdX:916,pa:[812,178,855.5,86.5,4,7.5,9],legX:1195,la:[1242.8,127,1242.8,295]});

// panel letters and titles
txt(9,37,'a)',30,'start',40);
txt(648,37,'b)',30,'start',38);
txt(292,34,titleA,31,'middle',325,'#f01010');
txt(915,34,titleB,31,'middle',406,'#1c1ca8');
</script>
</body></html>
